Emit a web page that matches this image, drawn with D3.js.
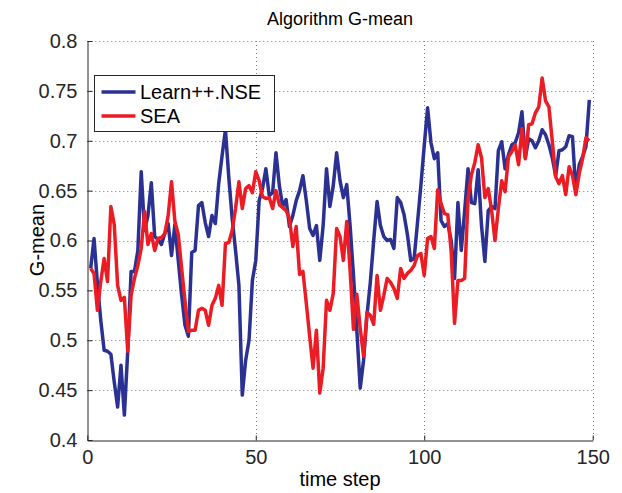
<!DOCTYPE html>
<html><head><meta charset="utf-8">
<script src="https://cdn.jsdelivr.net/npm/d3@7/dist/d3.min.js"></script>
<style>body{margin:0;background:#fff}svg{display:block}</style>
</head><body>
<svg id="c" width="622" height="493"></svg>
<script>
const seriesNames = ["Learn++.NSE", "SEA"];
const learnNSE = [0.572,0.602,0.557,0.52,0.49,0.489,0.486,0.458,0.433,0.475,
0.425,0.489,0.569,0.569,0.59,0.669,0.61,0.625,0.658,0.604,
0.601,0.596,0.607,0.617,0.585,0.616,0.58,0.545,0.515,0.504,
0.588,0.59,0.635,0.638,0.618,0.604,0.625,0.617,0.657,0.685,
0.711,0.663,0.622,0.59,0.555,0.445,0.48,0.50,0.56,0.58,
0.64,0.652,0.672,0.645,0.648,0.688,0.655,0.634,0.641,0.614,
0.625,0.64,0.65,0.665,0.64,0.612,0.605,0.615,0.58,0.615,
0.672,0.634,0.655,0.688,0.66,0.643,0.656,0.615,0.565,0.51,
0.452,0.48,0.525,0.558,0.6,0.639,0.615,0.604,0.6,0.601,
0.592,0.643,0.638,0.626,0.606,0.58,0.582,0.618,0.655,0.695,
0.733,0.698,0.682,0.688,0.62,0.614,0.617,0.60,0.562,0.638,
0.59,0.63,0.672,0.638,0.637,0.671,0.615,0.579,0.63,0.634,
0.632,0.69,0.699,0.672,0.686,0.696,0.698,0.708,0.729,0.683,
0.702,0.700,0.693,0.70,0.711,0.706,0.696,0.683,0.665,0.69,
0.691,0.694,0.705,0.704,0.649,0.676,0.684,0.694,0.741];
const sea = [0.572,0.567,0.53,0.559,0.582,0.559,0.634,0.616,0.555,0.54,
0.543,0.489,0.545,0.562,0.575,0.592,0.629,0.596,0.607,0.59,
0.602,0.603,0.607,0.625,0.659,0.619,0.606,0.572,0.539,0.509,
0.51,0.51,0.53,0.532,0.53,0.515,0.535,0.542,0.555,0.535,
0.597,0.598,0.61,0.632,0.659,0.632,0.652,0.655,0.648,0.669,
0.66,0.644,0.642,0.643,0.632,0.65,0.636,0.633,0.63,0.622,
0.594,0.614,0.566,0.569,0.537,0.504,0.472,0.51,0.447,0.472,
0.54,0.53,0.547,0.612,0.604,0.58,0.619,0.57,0.511,0.546,
0.512,0.484,0.528,0.525,0.516,0.565,0.53,0.545,0.562,0.558,
0.552,0.542,0.572,0.562,0.567,0.570,0.575,0.585,0.587,0.565,
0.602,0.604,0.592,0.651,0.637,0.627,0.626,0.589,0.517,0.56,
0.56,0.562,0.642,0.666,0.678,0.696,0.683,0.643,0.652,0.63,
0.600,0.632,0.66,0.649,0.684,0.689,0.696,0.676,0.712,0.682,
0.716,0.717,0.728,0.734,0.763,0.74,0.734,0.70,0.664,0.657,
0.665,0.646,0.674,0.665,0.646,0.667,0.682,0.703,0.70];
const timeSteps = learnNSE.map((d, i) => i + 1);
const xTicks = [0, 50, 100, 150];
const xTickLabels = ["0", "50", "100", "150"];
const yTicks = [0.4, 0.45, 0.5, 0.55, 0.6, 0.65, 0.7, 0.75, 0.8];
const yTickLabels = ["0.4", "0.45", "0.5", "0.55", "0.6", "0.65", "0.7", "0.75", "0.8"];
const colors = ["#2b3192", "#ec1c24"];

const svg = d3.select("#c");
const L = 87.3, R = 592.7, T = 41, B = 440;
const x = d3.scaleLinear().domain([0, 150]).range([L, R]);
const y = d3.scaleLinear().domain([0.4, 0.8]).range([B, T]);
const font = "'Liberation Sans', Arial, Helvetica, sans-serif";
const textCol = "#262626";

// grid
const grid = svg.append("g").attr("stroke", "#7a7a7a").attr("stroke-width", 1)
  .attr("stroke-dasharray", "1,3").attr("fill", "none");
yTicks.filter(v => v > 0.4).forEach(v => {
  grid.append("line").attr("x1", L).attr("x2", R)
    .attr("y1", Math.round(y(v)) + 0.5).attr("y2", Math.round(y(v)) + 0.5);
});
xTicks.filter(v => v > 0).forEach(v => {
  grid.append("line").attr("y1", T).attr("y2", B)
    .attr("x1", Math.round(x(v)) + 0.5).attr("x2", Math.round(x(v)) + 0.5);
});

// axes
const yAxis = d3.axisLeft(y).tickValues(yTicks).tickFormat((d, i) => yTickLabels[i])
  .tickSizeInner(-5).tickSizeOuter(0).tickPadding(10);
const xAxis = d3.axisBottom(x).tickValues(xTicks).tickFormat((d, i) => xTickLabels[i])
  .tickSizeInner(-5).tickSizeOuter(0).tickPadding(9);
const gy = svg.append("g").attr("transform", `translate(${Math.round(L) + 0.5},0)`).call(yAxis);
const gx = svg.append("g").attr("transform", `translate(0,${Math.round(B) + 0.5})`).call(xAxis);
[gx, gy].forEach(g => {
  g.selectAll("path, line").attr("stroke", textCol);
  g.selectAll("text").attr("font-family", font).attr("font-size", 20).attr("fill", textCol);
});

// lines
const line = d3.line().x((d, i) => x(timeSteps[i])).y(d => y(d));
[learnNSE, sea].forEach((s, k) => {
  svg.append("path").datum(s).attr("d", line).attr("fill", "none")
    .attr("stroke", colors[k]).attr("stroke-width", 3.5).attr("stroke-linejoin", "round");
});

// title and labels
svg.append("text").attr("x", 340).attr("y", 25).attr("text-anchor", "middle")
  .attr("font-family", font).attr("font-size", 18).attr("fill", "#000").text("Algorithm G-mean");
svg.append("text").attr("x", 340).attr("y", 486).attr("text-anchor", "middle")
  .attr("font-family", font).attr("font-size", 20).attr("fill", "#000").text("time step");
svg.append("text").attr("transform", "translate(44,240) rotate(-90)").attr("text-anchor", "middle")
  .attr("font-family", font).attr("font-size", 20).attr("fill", "#000").text("G-mean");

// legend
const lg = svg.append("g");
lg.append("rect").attr("x", 94.5).attr("y", 75.5).attr("width", 180).attr("height", 56)
  .attr("fill", "#fff").attr("stroke", textCol).attr("stroke-width", 1);
seriesNames.forEach((n, k) => {
  const yy = 92 + k * 24;
  lg.append("line").attr("x1", 101.5).attr("x2", 135.5).attr("y1", yy).attr("y2", yy)
    .attr("stroke", colors[k]).attr("stroke-width", 3.5);
  lg.append("text").attr("x", 140).attr("y", yy + 7).attr("font-family", font)
    .attr("font-size", 20).attr("fill", "#000").text(n);
});
</script>
</body></html>
